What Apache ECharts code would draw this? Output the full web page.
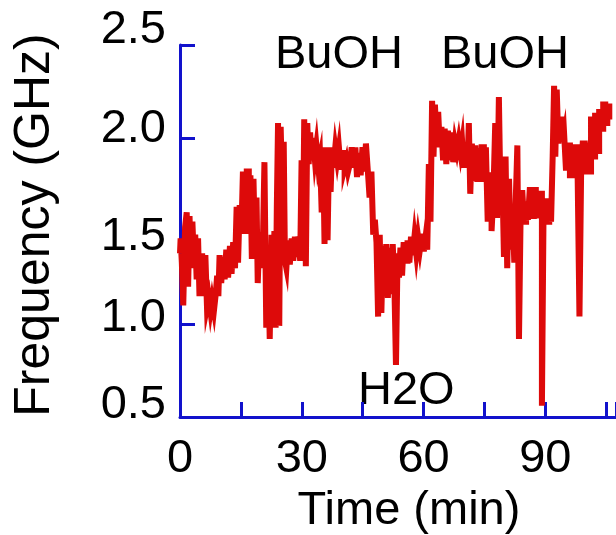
<!DOCTYPE html>
<html>
<head>
<meta charset="utf-8">
<script src="https://cdn.jsdelivr.net/npm/echarts@6/dist/echarts.min.js"></script>
<style>html,body{margin:0;padding:0;background:#fff}#c{width:616px;height:535px}</style>
</head>
<body>
<div id="c"></div>
<script>
var timeMin = [0,0.3,0.6,1.0,1.5,1.8,2.2,2.5,2.9,3.2,3.6,3.9,4.3,4.6,5.0,5.3,5.6,6.1,6.4,6.9,7.3,7.7,8.1,8.6,9.0,9.3,9.6,9.9,10.4,10.8,11.2,11.6,12.1,12.5,12.9,13.3,13.8,14.1,14.5,14.9,15.4,15.6,16.2,16.7,17.2,17.5,17.9,18.3,18.7,19.0,19.3,19.8,20.3,20.6,21.0,21.5,21.9,22.3,22.8,23.1,23.4,23.7,24.0,24.3,24.6,25.0,25.4,25.7,26.0,26.4,26.8,27.3,27.7,28.1,28.5,29.0,29.4,29.8,30.1,30.4,30.8,31.2,31.5,31.9,32.2,32.6,33.0,33.4,33.8,34.3,34.7,35.1,35.4,35.8,36.2,36.5,36.9,37.3,37.6,38.0,38.5,38.9,39.4,39.8,40.3,40.8,41.2,41.6,42.1,42.5,43.0,43.4,43.8,44.3,44.7,45.2,45.6,46.0,46.5,46.9,47.4,47.8,48.2,48.6,49.0,49.4,49.8,50.2,50.6,51.0,51.4,51.8,52.2,52.6,53.0,53.4,53.8,54.1,54.5,54.9,55.3,55.8,56.3,56.7,57.1,57.5,58.0,58.4,58.9,59.3,59.8,60.3,60.7,61.1,61.5,61.9,62.3,62.6,63.0,63.4,63.8,64.2,64.6,65.0,65.4,65.8,66.2,66.7,67.1,67.5,68.0,68.4,68.9,69.3,69.7,70.1,70.6,71.0,71.3,71.7,72.1,72.5,73.0,73.4,74.0,74.6,75.1,75.6,76.0,76.5,77.0,77.4,77.9,78.3,78.8,79.2,79.6,80.0,80.4,80.8,81.3,81.7,82.1,82.6,82.9,83.3,83.7,84.1,84.5,85.0,85.5,85.9,86.4,86.9,87.4,87.9,88.3,88.9,89.4,89.7,90.2,90.7,91.2,91.6,92.0,92.3,92.6,93.0,93.4,93.9,94.4,94.8,95.3,95.8,96.3,96.8,97.2,97.7,98.2,98.6,99.0,99.4,100.0,100.5,101.0,101.5,102.0,102.5,103.0,103.5,104.0,104.5,105.0,105.5,106.0];
var freqGHz = [1.38,1.46,1.33,1.10,1.52,1.60,1.20,1.58,1.30,1.55,1.36,1.48,1.24,1.46,1.15,1.26,1.38,1.15,1.37,1.09,1.14,1.07,1.13,1.07,1.16,1.26,1.15,1.37,1.22,1.36,1.24,1.40,1.25,1.42,1.27,1.44,1.30,1.63,1.33,1.64,1.52,1.82,1.50,1.82,1.52,1.80,1.35,1.78,1.38,1.68,1.22,1.48,1.30,1.47,1.87,0.98,1.40,0.92,1.48,1.14,1.50,0.98,1.63,2.08,0.99,2.06,1.69,1.98,1.34,1.30,1.45,1.32,1.46,1.34,1.47,1.36,1.47,1.34,1.88,1.36,2.10,1.31,2.08,1.86,2.03,1.88,2.00,1.89,1.96,1.85,1.90,1.60,1.95,1.43,1.95,1.45,1.90,1.71,1.95,1.84,1.95,1.88,1.95,1.83,1.92,1.84,1.88,1.82,1.86,1.95,1.84,1.95,1.79,1.92,1.80,1.95,1.82,1.97,1.83,1.68,1.82,1.48,1.56,1.44,1.04,1.48,1.06,1.42,1.15,1.43,1.14,1.41,1.16,1.43,1.22,0.78,1.38,1.25,1.41,1.26,1.44,1.34,1.45,1.33,1.47,1.37,1.47,1.38,1.47,1.40,1.47,1.39,1.47,1.40,1.86,1.55,2.20,1.90,2.18,1.97,2.14,1.95,2.06,1.88,2.05,1.86,2.04,1.88,2.03,1.87,1.98,1.93,1.99,1.92,1.98,1.84,1.97,1.85,2.08,1.70,1.97,1.77,1.96,1.78,1.93,1.95,1.78,1.95,1.55,1.80,1.50,1.70,2.08,1.57,2.22,1.60,1.80,1.36,1.90,1.30,1.78,1.40,1.62,1.33,1.70,1.96,0.92,1.58,1.72,1.55,1.66,1.56,1.72,1.58,1.72,1.57,1.64,1.70,0.56,1.60,1.66,1.55,1.67,1.55,1.90,2.28,1.90,2.26,1.97,2.10,1.98,2.03,1.84,1.96,1.80,1.96,1.80,1.95,1.80,1.04,1.80,1.97,1.82,1.96,1.82,2.10,1.90,2.12,1.93,2.14,2.05,2.18,2.08,2.17,2.10];
var xTickLabels = ['0','30','60','90'];
var yTickLabels = ['0.5','1.0','1.5','2.0','2.5'];
var xName = 'Time (min)';
var yName = 'Frequency (GHz)';
var annotations = ['BuOH','BuOH','H2O'];

var pts = timeMin.map(function(t,i){return [t, freqGHz[i]];});
var FONT = 'Liberation Sans, Arial, sans-serif';
var BLUE = '#1212CC';
// vertical nudges of the y tick labels (in 3px steps; negative = up), as placed in the original figure
var yLabelNudge = [-4, -2, 2, -3, -5];
function nudge(s, n){
  var i, out = s;
  if (n > 0) { for (i=0;i<n;i++) out = '\n' + out; }
  else { for (i=0;i<-n;i++) out = out + '\n'; }
  return out;
}
var chart = echarts.init(document.getElementById('c'), null, {renderer:'canvas'});
chart.setOption({
  animation:false,
  backgroundColor:'#ffffff',
  grid:{left:180, right:0, top:45, bottom:118, containLabel:false, outerBoundsMode:'none'},
  xAxis:{
    type:'value', min:0, max:107.4, interval:15,
    axisLine:{lineStyle:{color:BLUE, width:3}},
    axisTick:{inside:true, length:15, lineStyle:{color:BLUE, width:3}},
    splitLine:{show:false},
    axisLabel:{
      color:'#000', fontSize:47, fontFamily:FONT, margin:19,
      formatter:function(v){var s=String(Math.round(v)); return xTickLabels.indexOf(s)>=0 && Math.abs(v-Math.round(v))<1e-6 ? s : '';}
    },
    name:xName, nameLocation:'middle', nameGap:67,
    nameTextStyle:{color:'#000', fontSize:47, fontFamily:FONT, padding:[0,0,0,22]}
  },
  yAxis:{
    type:'value', min:0.5, max:2.5, interval:0.5,
    axisLine:{lineStyle:{color:BLUE, width:3}},
    axisTick:{inside:true, length:15, lineStyle:{color:BLUE, width:3}},
    splitLine:{show:false},
    axisLabel:{
      color:'#000', fontSize:47, fontFamily:FONT, margin:14, verticalAlign:'middle', lineHeight:6,
      showMinLabel:true, showMaxLabel:true,
      formatter:function(v){var i=Math.round((v-0.5)/0.5); return yTickLabels[i] ? nudge(yTickLabels[i], yLabelNudge[i]) : '';}
    },
    name:yName, nameLocation:'middle', nameGap:120,
    nameTextStyle:{color:'#000', fontSize:50, fontFamily:FONT, padding:[0,0,0,12]}
  },
  graphic:[
    {type:'text', left:275, top:32, style:{text:annotations[0], fill:'#000', font:'47px '+FONT}},
    {type:'text', left:441, top:32, style:{text:annotations[1], fill:'#000', font:'47px '+FONT}},
    {type:'text', left:358, top:368, style:{text:annotations[2], fill:'#000', font:'47px '+FONT}}
  ],
  series:[{
    type:'line', data:pts, showSymbol:false, symbol:'none', step:'middle',
    lineStyle:{color:'#DD0A0A', width:6, join:'miter'},
    clip:true
  }]
});
</script>
</body>
</html>
